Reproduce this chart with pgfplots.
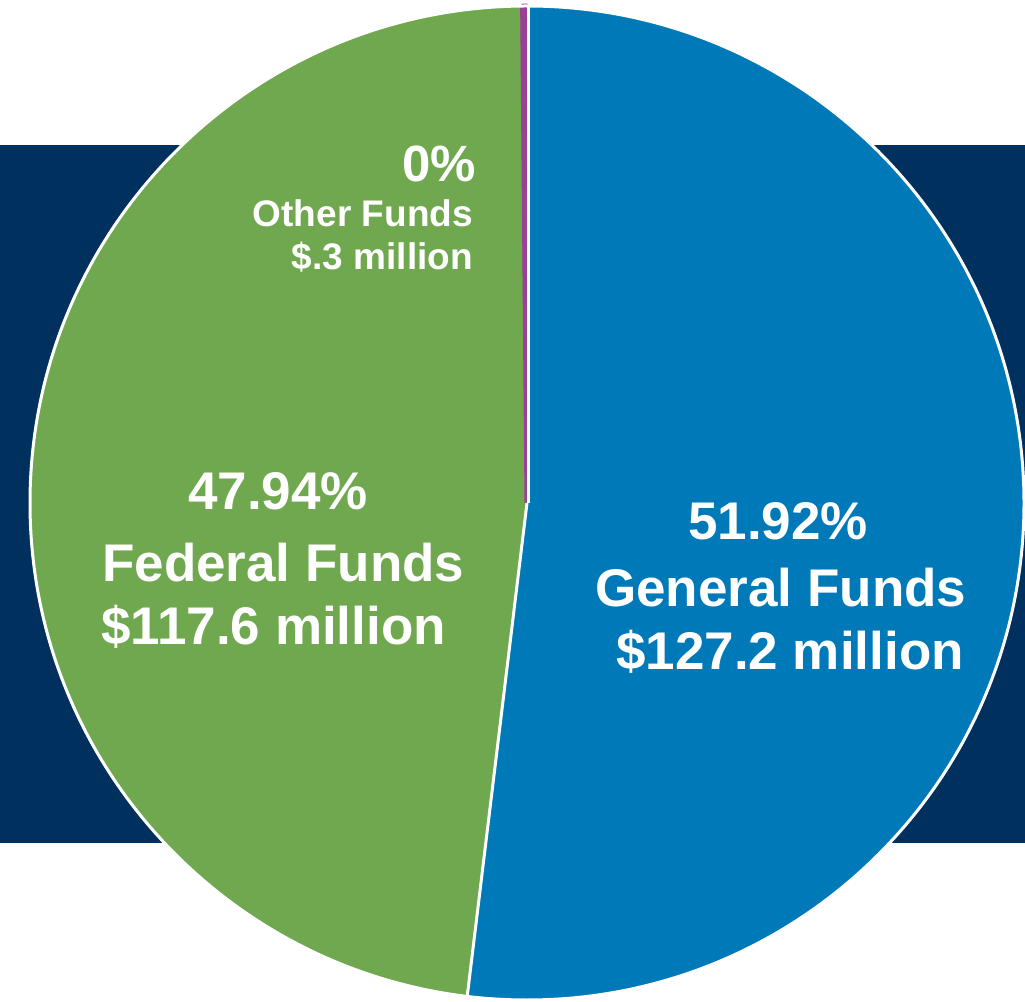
\documentclass[border=0pt]{standalone}
\usepackage{fontspec}
\setmainfont{Liberation Sans}
\usepackage{pgfplots}
\usepackage{pgfplotstable}
\pgfplotsset{compat=1.18}

\definecolor{navy}{HTML}{00305E}
\definecolor{genblue}{HTML}{0079B8}
\definecolor{fedgreen}{HTML}{70A84F}
\definecolor{othpurple}{HTML}{9B3F98}

% share of each fund, in per cent, clockwise from 12 o'clock
\pgfplotstableread{
fund    pct   col       edge
General 51.92 genblue   0
Federal 47.94 fedgreen  0
Other   0.14  othpurple 5
}\funds

\begin{document}
\begin{tikzpicture}
\begin{axis}[scale only axis,width=1025pt,height=1001pt,
  xmin=0,xmax=1025,ymin=0,ymax=1001,hide axis,clip=false]
% navy band behind the pie
\addplot[fill=navy,draw=none] coordinates {(0,158) (1025,158) (1025,856) (0,856)} -- cycle;
\def\cx{527}\def\cy{498}\def\rad{497}
\pgfmathsetmacro\start{90}
\pgfplotstablegetrowsof{\funds}
\pgfmathtruncatemacro\nrows{\pgfplotsretval-1}
\foreach \i in {0,...,\nrows}{
  \pgfplotstablegetelem{\i}{pct}\of\funds \let\p\pgfplotsretval
  \pgfplotstablegetelem{\i}{col}\of\funds \let\col\pgfplotsretval
  \pgfplotstablegetelem{\i}{edge}\of\funds \let\edge\pgfplotsretval
  \pgfmathsetmacro\stop{\start-3.6*\p}
  \ifnum\edge>0
    \edef\slice{\noexpand\filldraw[fill=\col,draw=\col,line width=\edge pt,line join=bevel] (axis cs:\cx,\cy) -- ++(\start:\rad pt)
      arc[start angle=\start,end angle=\stop,radius=\rad pt] -- cycle;}
  \else
    \edef\slice{\noexpand\fill[\col] (axis cs:\cx,\cy) -- ++(\start:\rad pt)
      arc[start angle=\start,end angle=\stop,radius=\rad pt] -- cycle;}
  \fi
  \slice
  \global\let\start\stop
}
% white separators: top (blue/purple) and bottom (blue/green), plus rim
\draw[white,line width=3pt] (axis cs:\cx,\cy) ++(1.8pt,0) -- ++(90:\rad pt);
\draw[white,line width=3pt] (axis cs:\cx,\cy) -- ++(-96.912:\rad pt);
\draw[white,line width=3pt] (axis cs:\cx,\cy) circle[radius=\rad pt];

\tikzset{lbl/.style={inner sep=0pt,text=white,font=\bfseries\fontsize{53}{60}\selectfont}}
\node[lbl,anchor=base west] at (axis cs:688,461) {51.92\%};
\node[lbl,anchor=base west] at (axis cs:595,394) {General Funds};
\node[lbl,anchor=base east] at (axis cs:964,331) {\$127.2 million};
\node[lbl,anchor=base west] at (axis cs:188,491) {47.94\%};
\node[lbl,anchor=base west] at (axis cs:102,419) {Federal Funds};
\node[lbl,anchor=base west] at (axis cs:101,356) {\$117.6 million};
\node[lbl,anchor=base east,font=\bfseries\fontsize{51}{58}\selectfont] at (axis cs:476,819) {0\%};
\node[lbl,anchor=base east,font=\bfseries\fontsize{37}{42}\selectfont] at (axis cs:473,774) {Other Funds};
\node[lbl,anchor=base east,font=\bfseries\fontsize{37}{42}\selectfont] at (axis cs:473,731) {\$.3 million};
\coordinate (ll) at (axis cs:0,0);
\coordinate (ur) at (axis cs:1025,1001);
\end{axis}
\pgfresetboundingbox
\path[use as bounding box] (ll) rectangle (ur);
\end{tikzpicture}
\end{document}
